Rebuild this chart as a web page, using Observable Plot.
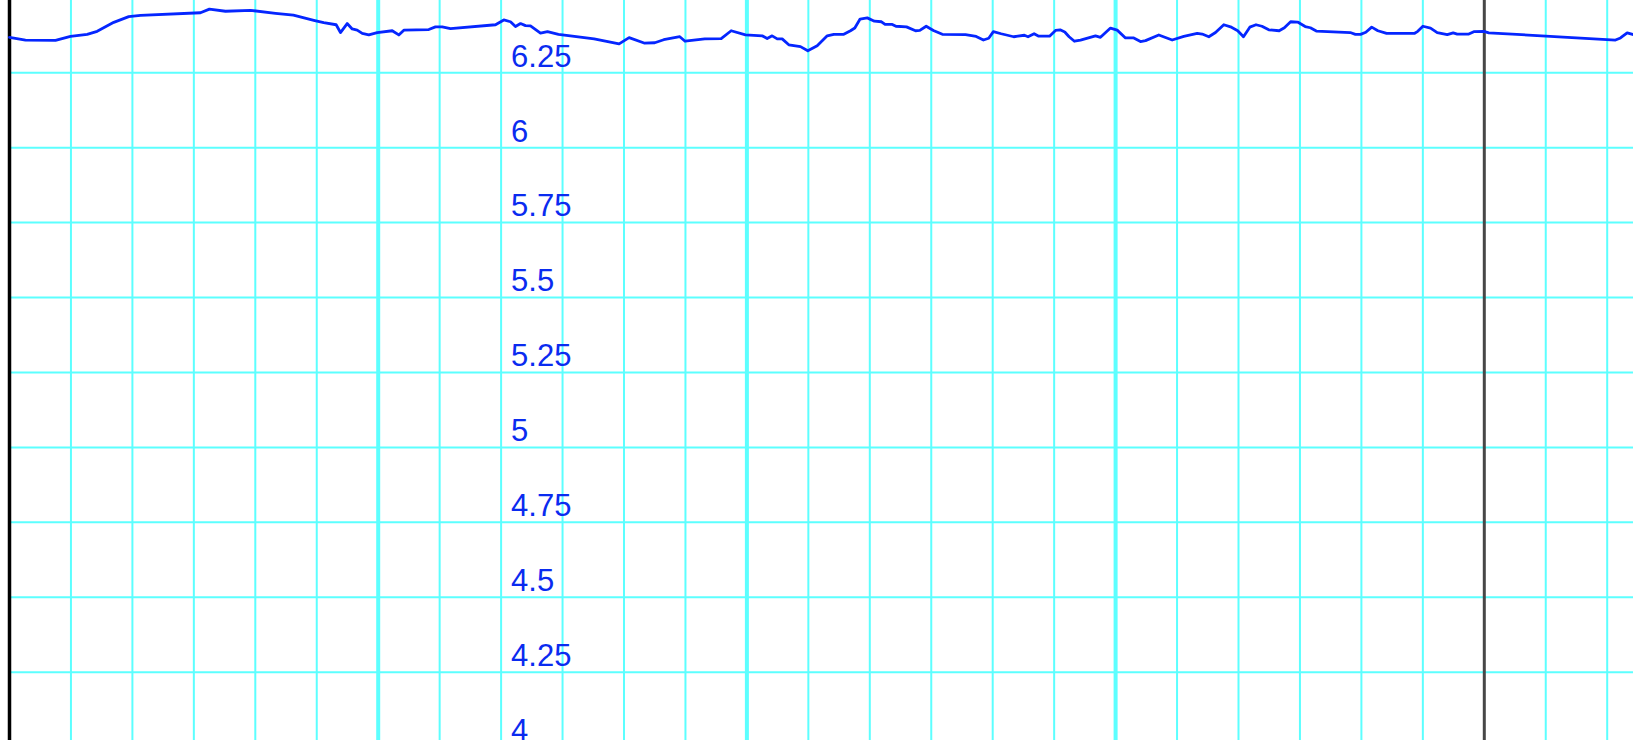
<!DOCTYPE html>
<html>
<head>
<meta charset="utf-8">
<script src="https://cdn.jsdelivr.net/npm/d3@7"></script>
<script src="https://cdn.jsdelivr.net/npm/@observablehq/plot@0.6"></script>
<style>
  html, body { margin: 0; padding: 0; background: #fff; }
  #chart svg { display: block; }
</style>
</head>
<body>
<div id="chart"></div>
<script>
// Hours since the left axis line
const hours = [
  0, 0.26, 0.749, 0.993, 1.264, 1.427, 1.697, 1.941, 2.132, 3.108,
  3.253, 3.515, 3.922, 4.329, 4.62, 4.968, 5.113, 5.316,
  5.386, 5.495, 5.577, 5.658, 5.74, 5.847, 5.984, 6.228, 6.335, 6.417,
  6.823, 6.932, 7.041, 7.177, 7.909, 8.044, 8.153, 8.234, 8.316, 8.397, 8.478, 8.641,
  8.755, 8.933, 9.514, 9.92, 10.083, 10.327, 10.501, 10.646, 10.908, 10.994, 11.315,
  11.582, 11.744, 11.977, 12.249, 12.33, 12.411, 12.493, 12.574, 12.682, 12.872, 12.991,
  13.144, 13.307, 13.414, 13.577, 13.686,
  13.756, 13.842, 13.959, 14.075, 14.19, 14.249, 14.366, 14.425, 14.597, 14.744, 14.814,
  14.918, 15.035, 15.18, 15.557, 15.731, 15.849, 15.935, 16.011, 16.138, 16.342, 16.516,
  16.575, 16.674, 16.749, 16.925, 17.022, 17.097, 17.173, 17.243, 17.33,
  17.429, 17.673, 17.754, 17.917, 18.026, 18.161, 18.296, 18.405, 18.487, 18.703, 18.921,
  19.11, 19.328, 19.409, 19.517, 19.626, 19.761, 19.87,
  19.987, 20.081, 20.184, 20.285, 20.381, 20.493, 20.662, 20.747, 20.848, 20.962, 21.085,
  21.17, 21.266, 21.818, 21.902, 21.987, 22.072, 22.168, 22.268, 22.41, 22.861, 22.917, 23.001,
  23.125, 23.234, 23.397, 23.494, 23.559, 23.748, 23.829, 23.992, 24.073,
  26.135, 26.216, 26.325, 26.428
];
const values = [
  6.368, 6.359, 6.358, 6.371, 6.378, 6.388, 6.418, 6.437, 6.441, 6.45,
  6.462, 6.455, 6.458, 6.448, 6.442, 6.424, 6.417, 6.41,
  6.384, 6.414, 6.396, 6.392, 6.381, 6.376, 6.384, 6.39, 6.376, 6.392,
  6.394, 6.403, 6.403, 6.397, 6.41, 6.426, 6.42, 6.404, 6.414, 6.407, 6.406, 6.382,
  6.387, 6.378, 6.363, 6.346, 6.367, 6.349, 6.35, 6.36, 6.37, 6.355, 6.363,
  6.364, 6.39, 6.376, 6.373, 6.364, 6.373, 6.363, 6.363, 6.343, 6.337, 6.323,
  6.34, 6.373, 6.378, 6.378, 6.39,
  6.399, 6.429, 6.433, 6.422, 6.42, 6.411, 6.411, 6.405, 6.403, 6.39, 6.391,
  6.405, 6.391, 6.378, 6.377, 6.371, 6.359, 6.365, 6.387, 6.38, 6.37, 6.375,
  6.37, 6.38, 6.372, 6.372, 6.391, 6.393, 6.386, 6.37, 6.355,
  6.359, 6.373, 6.368, 6.399, 6.392, 6.366, 6.366, 6.354, 6.357, 6.376, 6.359,
  6.371, 6.381, 6.379, 6.37, 6.384, 6.41, 6.403,
  6.39, 6.37, 6.402, 6.41, 6.405, 6.393, 6.39, 6.4, 6.42, 6.419, 6.404,
  6.4, 6.389, 6.384, 6.378, 6.378, 6.385, 6.402, 6.39, 6.381, 6.381, 6.388, 6.405,
  6.399, 6.384, 6.377, 6.383, 6.379, 6.379, 6.387, 6.388, 6.383,
  6.359, 6.366, 6.383, 6.377
];
const yTicks = [4, 4.25, 4.5, 4.75, 5, 5.25, 5.5, 5.75, 6, 6.25];
const yTickLabels = ["4", "4.25", "4.5", "4.75", "5", "5.25", "5.5", "5.75", "6", "6.25"];
const minorHours = [1, 2, 3, 4, 5, 7, 8, 9, 10, 11, 13, 14, 15, 16, 17, 19, 20, 21, 22, 23, 25, 26];
const majorHours = [6, 12, 18];
const dayHour = [24];
const axisHour = [0];
const labelHour = 8;
const xDomain = [-9 / 61.45, 1624 / 61.45];

const series = hours.map((h, i) => ({h, v: values[i]}));
const ticks = yTicks.map((v, i) => ({v, label: yTickLabels[i]}));

const chart = Plot.plot({
  width: 1633,
  height: 740,
  margin: 0,
  style: {background: "#fff"},
  x: {domain: xDomain, axis: null},
  y: {domain: [4.0221, 6.4909], axis: null},
  marks: [
    Plot.ruleY(yTicks, {x1: () => axisHour[0], x2: () => xDomain[1], y: d => d, stroke: "#5cffff", strokeWidth: 2}),
    Plot.ruleX(minorHours, {stroke: "#5cffff", strokeWidth: 2}),
    Plot.ruleX(majorHours, {stroke: "#5cffff", strokeWidth: 4}),
    Plot.ruleX(dayHour, {stroke: "#474747", strokeWidth: 3}),
    Plot.ruleX(axisHour, {stroke: "#000", strokeWidth: 3.5}),
    Plot.line(series, {x: "h", y: "v", stroke: "#0526ff", strokeWidth: 2.8, curve: "linear"}),
    Plot.text(ticks, {
      x: () => labelHour, y: "v", text: "label",
      dx: 10, dy: -16, textAnchor: "start", lineAnchor: "middle",
      fontSize: 31, fill: "#0a2bf0",
      fontFamily: "'Liberation Sans', Arial, sans-serif"
    })
  ]
});
document.getElementById("chart").appendChild(chart);
</script>
</body>
</html>
